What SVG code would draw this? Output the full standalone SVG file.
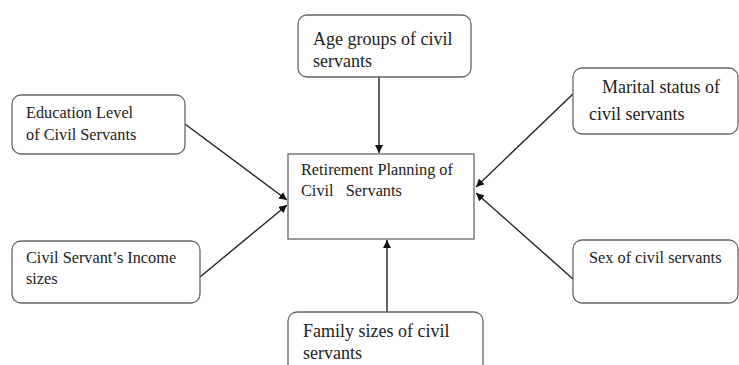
<svg xmlns="http://www.w3.org/2000/svg" width="739" height="365" viewBox="0 0 739 365">
<style>
.box{fill:#fff;stroke:#666;stroke-width:1.3}
.t{font-family:"Liberation Serif","Times New Roman",serif;fill:#222;font-size:16.3px}
.tb{font-family:"Liberation Serif","Times New Roman",serif;fill:#222;font-size:18px}
.c{stroke:#222;stroke-width:1.4;fill:none;marker-end:url(#ah)}
</style>
<defs>
<marker id="ah" viewBox="0 0 10 10" refX="10" refY="5" markerWidth="8" markerHeight="8" markerUnits="userSpaceOnUse" orient="auto">
<path d="M0,0 L10,5 L0,10 z" fill="#111"/>
</marker>
</defs>
<rect width="739" height="365" fill="#fff"/>
<g id="connectors">
<line class="c" x1="379" y1="77" x2="379" y2="153"/>
<line class="c" x1="185" y1="124" x2="287" y2="200"/>
<line class="c" x1="200" y1="277" x2="287" y2="205"/>
<line class="c" x1="573" y1="94" x2="476" y2="187"/>
<line class="c" x1="573" y1="279" x2="476" y2="193"/>
<line class="c" x1="387" y1="312" x2="387" y2="240"/>
</g>
<g id="center">
<rect class="box" x="288" y="154" width="186" height="85"/>
<text class="t" x="301" y="175">Retirement Planning of</text>
<text class="t" x="301" y="196" xml:space="preserve">Civil   Servants</text>
</g>
<g id="age">
<rect class="box" x="298" y="15" width="173" height="62" rx="9"/>
<text class="tb" x="313" y="45">Age groups of civil</text>
<text class="tb" x="313" y="67">servants</text>
</g>
<g id="education">
<rect class="box" x="12" y="95" width="173" height="59" rx="9"/>
<text class="t" x="26" y="118">Education Level</text>
<text class="t" x="26" y="140">of Civil Servants</text>
</g>
<g id="income">
<rect class="box" x="12" y="241" width="188" height="62" rx="9"/>
<text class="t" x="26" y="263">Civil Servant’s Income</text>
<text class="t" x="26" y="284">sizes</text>
</g>
<g id="marital">
<rect class="box" x="573" y="68" width="165" height="66" rx="9"/>
<text class="tb" x="602" y="93">Marital status of</text>
<text class="tb" x="589" y="120">civil servants</text>
</g>
<g id="sex">
<rect class="box" x="573" y="240" width="165" height="63" rx="9"/>
<text class="t" x="589" y="263">Sex of civil servants</text>
</g>
<g id="family">
<rect class="box" x="288" y="312" width="195" height="70" rx="9"/>
<text class="tb" x="303" y="337">Family sizes of civil</text>
<text class="tb" x="303" y="359">servants</text>
</g>
</svg>
